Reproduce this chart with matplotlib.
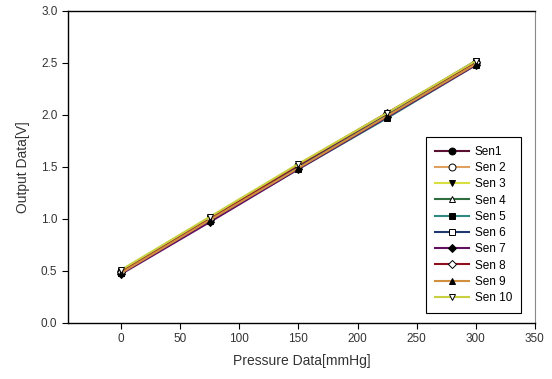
import matplotlib
matplotlib.use('Agg')
import matplotlib.pyplot as plt

plt.rcParams['font.family'] = ['Liberation Sans', 'DejaVu Sans']

# 数据
pressure = [0, 75, 150, 225, 300]
sen_labels = ['Sen1', 'Sen 2', 'Sen 3', 'Sen 4', 'Sen 5', 'Sen 6', 'Sen 7', 'Sen 8', 'Sen 9', 'Sen 10']
sen_values = [
    [0.49, 0.99, 1.50, 2.00, 2.50],
    [0.50, 1.00, 1.51, 2.01, 2.51],
    [0.48, 0.98, 1.49, 1.99, 2.49],
    [0.49, 1.00, 1.50, 2.00, 2.50],
    [0.48, 0.98, 1.48, 1.97, 2.48],
    [0.50, 1.01, 1.51, 2.01, 2.52],
    [0.47, 0.97, 1.48, 1.98, 2.48],
    [0.49, 1.00, 1.52, 2.02, 2.51],
    [0.48, 0.99, 1.49, 1.99, 2.49],
    [0.51, 1.02, 1.53, 2.02, 2.52],
]

colors = ['#5A1030', '#E0A060', '#D8E040', '#2E6E3E', '#2E8A80',
          '#1E3A6E', '#601060', '#901020', '#D09040', '#C8D040']
markers = ['o', 'o', 'v', '^', 's', 's', 'D', 'D', '^', 'v']
filled = [True, False, True, False, True, False, True, False, True, False]

fig = plt.figure(figsize=(5.52, 3.79), dpi=100)
ax = fig.add_axes([0.123, 0.148, 0.846, 0.823])

for vals, lab, c, m, f in zip(sen_values, sen_labels, colors, markers, filled):
    ms = 4.5 if m == 'D' else 5
    ax.plot(pressure, vals, color=c, lw=1.5, marker=m, markersize=ms,
            markerfacecolor='black' if f else 'white', markeredgecolor='black',
            markeredgewidth=0.7, label=lab)

ax.set_xlim(-45, 350)
ax.set_ylim(0, 3.0)
ax.set_xticks([0, 50, 100, 150, 200, 250, 300, 350])
ax.set_yticks([0.0, 0.5, 1.0, 1.5, 2.0, 2.5, 3.0])
ax.set_yticklabels(['0.0', '0.5', '1.0', '1.5', '2.0', '2.5', '3.0'])
ax.tick_params(direction='out', length=4, width=0.8, labelsize=8.5, labelcolor='#333333')
ax.set_xlabel('Pressure Data[mmHg]', fontsize=10, color='#333333', labelpad=6)
ax.set_ylabel('Output Data[V]', fontsize=10, color='#333333', labelpad=8)
for s in ['left', 'bottom', 'top']:
    ax.spines[s].set_linewidth(1.0)
ax.spines['right'].set_color('#888888')

leg = ax.legend(loc='lower right', bbox_to_anchor=(0.970, 0.032), borderaxespad=0,
                fontsize=8.5, frameon=True, fancybox=False, edgecolor='black',
                framealpha=1, handlelength=2.9, labelspacing=0.36, borderpad=0.75,
                handletextpad=0.5)
leg.get_frame().set_linewidth(0.8)

plt.savefig('out.png', dpi=100, facecolor='white')
plt.close()
